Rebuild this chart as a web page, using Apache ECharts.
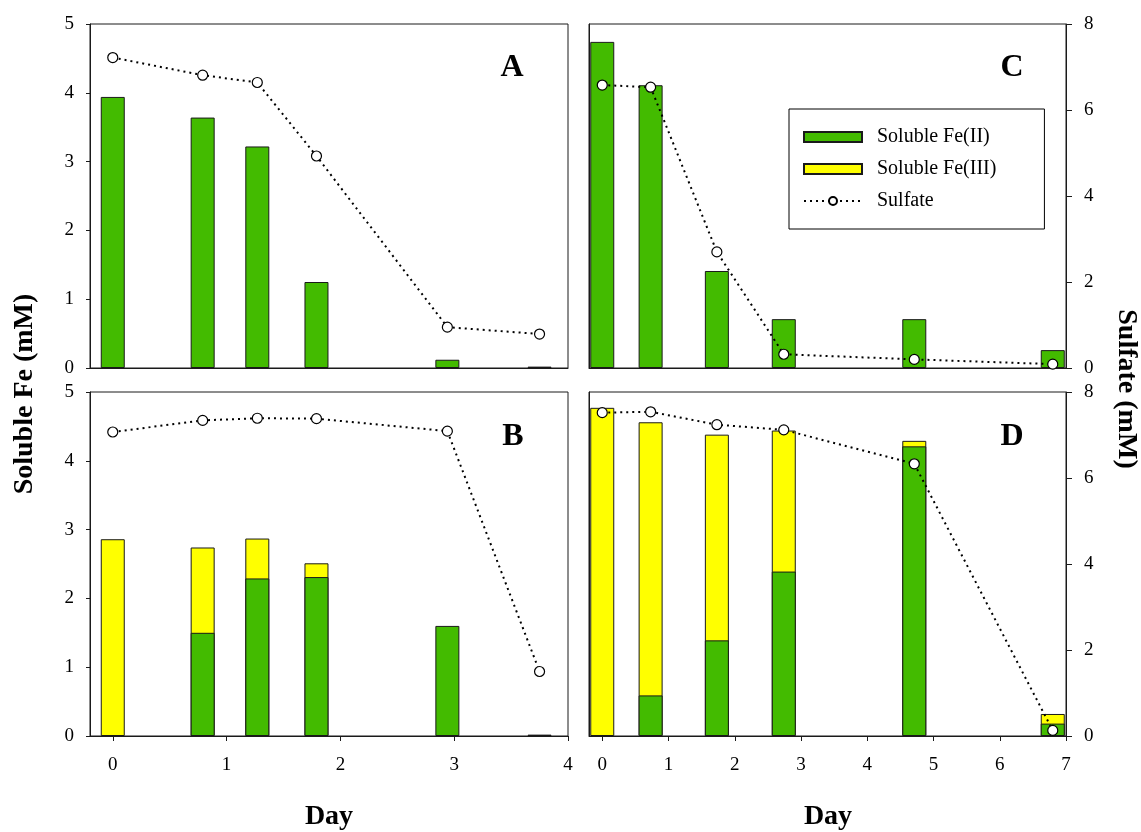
<!DOCTYPE html>
<html>
<head>
<meta charset="utf-8">
<script src="https://cdn.jsdelivr.net/npm/echarts@6/dist/echarts.min.js"></script>
<style>html,body{margin:0;padding:0;background:#fff}#chart{width:1141px;height:832px}</style>
</head>
<body>
<div id="chart"></div>
<script>
// ---- data ----
const leftDays  = [0, 0.79, 1.27, 1.79, 2.94, 3.75];
const rightDays = [0, 0.73, 1.73, 2.74, 4.71, 6.80];
const leftDayTicks  = [0, 1, 2, 3, 4];
const rightDayTicks = [0, 1, 2, 3, 4, 5, 6, 7];

const feII_A    = [3.94, 3.64, 3.22, 1.25, 0.12, 0.02];
const sulfate_A = [7.22, 6.81, 6.64, 4.93, 0.95, 0.79];

const feII_B    = [null, 1.50, 2.29, 2.31, 1.60, 0.02];
const feIII_B   = [2.86, 1.24, 0.58, 0.20, null, null];
const sulfate_B = [7.07, 7.34, 7.39, 7.38, 7.09, 1.50];

const feII_C    = [4.74, 4.11, 1.41, 0.71, 0.71, 0.26];
const sulfate_C = [6.58, 6.53, 2.70, 0.32, 0.20, 0.09];

const feII_D    = [null, 0.59, 1.39, 2.39, 4.21, 0.18];
const feIII_D   = [4.77, 3.97, 2.99, 2.05, 0.08, 0.14];
const sulfate_D = [7.52, 7.54, 7.24, 7.12, 6.33, 0.13];

const panelLetters = ['A', 'B', 'C', 'D'];
const NAME_FE2 = 'Soluble Fe(II)', NAME_FE3 = 'Soluble Fe(III)', NAME_SO4 = 'Sulfate';

// ---- styles ----
const FONT = '"Liberation Serif", "Times New Roman", serif';
const GREEN = '#43bb00', YELLOW = '#ffff00', EDGE = '#1a1a1a';
const pairs = (xs, ys) => xs.map((x, i) => [x, ys[i]]);
// top of a stacked bar = Fe(II) + Fe(III) (Fe(III) segment sits on Fe(II))
const stackTop = (lower, upper) => upper.map((u, i) => u == null ? null : (lower[i] || 0) + u);

const grids = [
  {left: 90,  top: 24,  width: 478, height: 344},
  {left: 90,  top: 392, width: 478, height: 344},
  {left: 589, top: 24,  width: 477, height: 344},
  {left: 589, top: 392, width: 477, height: 344}
].map(g => Object.assign(g, {show: true, borderColor: EDGE, borderWidth: 1, containLabel: false}));

const tickLabel = {fontFamily: FONT, fontSize: 19, color: '#000'};

function xAxis(gi, max, ticks, visible) {
  return {
    type: 'value', gridIndex: gi, min: -0.2, max: max,
    splitLine: {show: false},
    axisLine: {show: true, onZero: false, lineStyle: {color: EDGE}},
    axisTick: {show: visible, length: 5, lineStyle: {color: EDGE}, customValues: ticks},
    axisLabel: Object.assign({show: visible, margin: 20, customValues: ticks}, tickLabel)
  };
}
function feAxis(gi, visible) {
  return {
    type: 'value', gridIndex: gi, min: 0, max: 5, interval: 1, position: 'left',
    splitLine: {show: false},
    axisLine: {show: true, onZero: false, lineStyle: {color: EDGE}},
    axisTick: {show: visible, length: 4, lineStyle: {color: EDGE}},
    axisLabel: Object.assign({show: visible, margin: 16}, tickLabel)
  };
}
function so4Axis(gi, visible) {
  return {
    type: 'value', gridIndex: gi, min: 0, max: 8, interval: 2, position: 'right',
    splitLine: {show: false},
    axisLine: {show: visible, onZero: false, lineStyle: {color: EDGE}},
    axisTick: {show: visible, length: 6, lineStyle: {color: EDGE}},
    axisLabel: Object.assign({show: visible, margin: 18}, tickLabel)
  };
}

const xAxes = [
  xAxis(0, 4, leftDayTicks, false),
  xAxis(1, 4, leftDayTicks, true),
  xAxis(2, 7, rightDayTicks, false),
  xAxis(3, 7, rightDayTicks, true)
];
// y axes: 0..3 Fe (left), 4..7 sulfate (right)
const yAxes = [
  feAxis(0, true), feAxis(1, true), feAxis(2, false), feAxis(3, false),
  so4Axis(0, false), so4Axis(1, false), so4Axis(2, true), so4Axis(3, true)
];

function barSeries(name, color, gi, xs, ys) {
  return {
    name: name, type: 'bar', xAxisIndex: gi, yAxisIndex: gi,
    barWidth: 24, barGap: '-100%', data: pairs(xs, ys),
    itemStyle: {color: color, borderColor: EDGE, borderWidth: 1},
    emphasis: {disabled: true}, z: 2
  };
}
function sulfateSeries(gi, xs, ys) {
  return {
    name: NAME_SO4, type: 'line', xAxisIndex: gi, yAxisIndex: gi + 4,
    data: pairs(xs, ys), symbol: 'circle', symbolSize: 10,
    lineStyle: {color: '#000', width: 2, type: [2, 4]},
    itemStyle: {color: '#fff', borderColor: '#000', borderWidth: 1.2},
    emphasis: {disabled: true}, z: 5
  };
}

const series = [
  barSeries(NAME_FE2, GREEN, 0, leftDays, feII_A),
  sulfateSeries(0, leftDays, sulfate_A),
  barSeries(NAME_FE3, YELLOW, 1, leftDays, stackTop(feII_B, feIII_B)),
  barSeries(NAME_FE2, GREEN, 1, leftDays, feII_B),
  sulfateSeries(1, leftDays, sulfate_B),
  barSeries(NAME_FE2, GREEN, 2, rightDays, feII_C),
  sulfateSeries(2, rightDays, sulfate_C),
  barSeries(NAME_FE3, YELLOW, 3, rightDays, stackTop(feII_D, feIII_D)),
  barSeries(NAME_FE2, GREEN, 3, rightDays, feII_D),
  sulfateSeries(3, rightDays, sulfate_D)
];

const letterPos = [[512, 68], [513, 437], [1012, 68], [1012, 437]];
const graphics = panelLetters.map((t, i) => ({
  type: 'text', x: letterPos[i][0], y: letterPos[i][1], z: 10,
  style: {text: t, font: 'bold 32px ' + FONT, fill: '#000', textAlign: 'center', textVerticalAlign: 'middle'}
})).concat([
  {type: 'text', x: 25, y: 394, rotation: Math.PI / 2,
   style: {text: 'Soluble Fe (mM)', font: 'bold 28px ' + FONT, fill: '#000', textAlign: 'center', textVerticalAlign: 'middle'}},
  {type: 'text', x: 1126, y: 389, rotation: -Math.PI / 2,
   style: {text: 'Sulfate (mM)', font: 'bold 28px ' + FONT, fill: '#000', textAlign: 'center', textVerticalAlign: 'middle'}},
  {type: 'text', x: 329, y: 817,
   style: {text: 'Day', font: 'bold 28px ' + FONT, fill: '#000', textAlign: 'center', textVerticalAlign: 'middle'}},
  {type: 'text', x: 828, y: 817,
   style: {text: 'Day', font: 'bold 28px ' + FONT, fill: '#000', textAlign: 'center', textVerticalAlign: 'middle'}}
]);

const chart = echarts.init(document.getElementById('chart'), null, {renderer: 'canvas'});
chart.setOption({
  backgroundColor: '#fff',
  animation: false,
  grid: grids,
  xAxis: xAxes,
  yAxis: yAxes,
  legend: {
    data: [{name: NAME_FE2, icon: 'rect'}, {name: NAME_FE3, icon: 'rect'}, {name: NAME_SO4}],
    orient: 'vertical', left: 789, top: 109,
    itemWidth: 58, itemHeight: 10, itemGap: 10,
    padding: [17, 48, 17, 14],
    borderColor: '#000', borderWidth: 1, backgroundColor: '#fff',
    selectedMode: false,
    textStyle: {fontFamily: FONT, fontSize: 20, color: '#000', lineHeight: 22, padding: [0, 0, 0, 10]}
  },
  series: series,
  graphic: graphics
});
</script>
</body>
</html>
